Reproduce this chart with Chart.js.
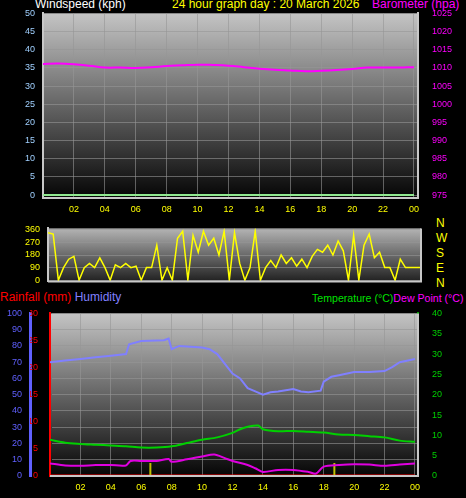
<!DOCTYPE html>
<html>
<head>
<meta charset="utf-8">
<script src="https://cdn.jsdelivr.net/npm/chart.js@4/dist/chart.umd.min.js"></script>
<style>
  body { margin: 0; background: #000; width: 466px; height: 498px; overflow: hidden; font-family: "Liberation Sans", Arial, sans-serif; }
  canvas { position: absolute; left: 0; }
  .t { position: absolute; font-size: 12px; white-space: nowrap; line-height: 12px; }
</style>
</head>
<body>
<div class="t" style="left:35px;top:-2px;color:#fff">Windspeed (kph)</div>
<div class="t" style="left:172px;top:-2px;color:#ffff00">24 hour graph day : 20 March 2026</div>
<div class="t" style="left:372px;top:-2px;color:#ff00ff">Barometer (hpa)</div>
<div class="t" style="left:436px;top:216px;color:#ffff00;line-height:15px;font-size:12px">N<br>W<br>S<br>E<br>N</div>
<div class="t" style="left:0;top:291px;color:#ff0000">Rainfall (mm) <span style="color:#8080ff">Humidity</span></div>
<div class="t" style="left:312px;top:292px;color:#00e000;font-size:10.6px">Temperature (°C)<span style="color:#ff00ff">Dew Point (°C)</span></div>
<canvas id="c1" style="top:0" width="466" height="220"></canvas>
<canvas id="c2" style="top:215px" width="466" height="80"></canvas>
<canvas id="c3" style="top:300px" width="466" height="198"></canvas>
<script>
// hours of the day for the sampled series
const baroHours = [0,1,2,3,4,5,6,7,8,9,10,11,12,13,14,15,16,17,18,19,20,21,22,23,24];
const baroValues = [1011.1,1011.2,1011.0,1010.6,1010.1,1010.1,1010.0,1010.2,1010.5,1010.7,1010.9,1010.8,1010.6,1010.2,1009.8,1009.5,1009.3,1009.1,1009.2,1009.4,1009.7,1010.1,1010.1,1010.1,1010.2];
const windHours = [0,24];
const windValues = [0,0];

// wind direction every 20 minutes
const dirValues = [340,330,0,90,150,170,0,90,120,90,160,90,0,110,90,120,90,100,0,90,90,250,0,90,
  0,300,350,0,320,200,350,250,300,180,350,0,340,120,0,90,350,0,90,140,90,180,120,160,
  100,150,90,170,220,200,250,180,280,210,0,320,0,250,330,160,200,90,90,0,150,90,90,90,90];

const humHours = [0,1,2,3,4,5,5.2,6,7.5,7.8,8,8.5,10,10.5,11,11.5,12,12.5,13,13.5,14,14.5,15,16,16.5,17,17.8,18,18.5,19,20,21,22,22.5,23,24];
const humValues = [70,71,72,73,74,75,81,83,83.5,84.5,78,80,79,78,75,69,63,60,54,52,50,51.5,52,53.5,52,51.5,52.5,58,61,62,64,64,64.5,67,70,72];
const tempHours = [0,1,2,3,4,5,6,7,8,9,10,11,12,12.5,13,13.7,14,15,16,17,18,19,20,21,22,23,24];
const tempValues = [8.9,8.2,7.9,7.7,7.5,7.3,7.0,7.0,7.3,8.1,8.9,9.5,10.6,11.5,12.1,12.4,11.5,11.0,11.1,10.9,10.7,10.2,10.1,9.8,9.5,8.7,8.4];
const dewHours = [0,1,2,3,4,5,5.3,6,7,7.8,8,9,10,10.8,11.5,12,13,13.5,14,15,16,17,17.5,18,19,20,21,22,23,24];
const dewValues = [3.1,2.6,2.5,2.7,2.7,2.6,3.7,3.7,3.7,4.2,3.5,4.1,4.8,5.3,4.4,3.7,2.7,1.9,1.0,1.5,1.5,1.0,0.6,2.3,2.7,2.9,2.8,2.5,2.8,3.1];
const rainHours = [0,24];
const rainValues = [0,0];
const markHours = [6.6,18.7];
const markHeight = 8;

const pts = (xs, ys) => xs.map((x, i) => ({ x: x, y: ys[i] }));
const markPts = [];
markHours.forEach(h => { markPts.push({x:h,y:0},{x:h,y:markHeight},{x:h,y:null}); });

const plotBg = {
  id: 'plotBg',
  beforeDraw(c, a, o) {
    const { ctx, chartArea: ca } = c;
    const g = ctx.createLinearGradient(0, ca.top, 0, ca.bottom);
    g.addColorStop(0, o.top);
    g.addColorStop(1, o.bottom);
    ctx.save();
    ctx.fillStyle = g;
    ctx.fillRect(ca.left, ca.top, ca.right - ca.left, ca.bottom - ca.top);
    ctx.restore();
  },
  afterDatasetsDraw(c) {
    const { ctx, chartArea: ca } = c;
    ctx.save();
    ctx.strokeStyle = '#c8c8c8';
    ctx.lineWidth = 2;
    ctx.beginPath();
    ctx.moveTo(ca.left, ca.bottom); ctx.lineTo(ca.right, ca.bottom); ctx.lineTo(ca.right, ca.top);
    ctx.stroke();
    ctx.restore();
  }
};

const font = { family: '"Liberation Sans", Arial, sans-serif', size: 9 };
const grid = { color: 'rgba(150,150,150,0.6)', borderDash: [1, 2], drawTicks: false };
const fixW = w => s => { s.width = w; };
const fixH = h => s => { s.height = h; };
const hourTick = v => (v === 0 ? '' : String(v % 24).padStart(2, '0'));
const plain = v => String(v);

function xAxis(min, max, show) {
  return {
    type: 'linear', min: min, max: max, display: show,
    afterBuildTicks: s => { s.ticks = [2,4,6,8,10,12,14,16,18,20,22,24].map(v => ({ value: v })); },
    ticks: { color: '#ffff00', font: font, callback: hourTick, padding: 6, maxRotation: 0 },
    grid: grid, border: { display: false }, afterFit: fixH(22)
  };
}
const base = { responsive: false, animation: false, events: [],
  plugins: { legend: { display: false }, tooltip: { enabled: false } } };

new Chart(document.getElementById('c1'), {
  type: 'line',
  data: { datasets: [
    { data: pts(baroHours, baroValues), yAxisID: 'yb', borderColor: '#ff00ff', borderWidth: 2, pointRadius: 0, tension: 0.4 },
    { data: pts(windHours, windValues), yAxisID: 'y', borderColor: '#90e890', borderWidth: 2, pointRadius: 0 }
  ] },
  options: { ...base,
    layout: { padding: { top: 10 } },
    plugins: { ...base.plugins, plotBg: { top: '#c4c4c4', bottom: '#050505' } },
    scales: {
      x: xAxis(0, 24.26, true),
      y: { position: 'left', min: -0.8, max: 50,
        afterBuildTicks: s => { s.ticks = [0,5,10,15,20,25,30,35,40,45,50].map(v => ({ value: v })); },
        ticks: { color: '#a0d0ff', font: font, padding: 8, callback: plain }, grid: grid, border: { color: '#c8c8c8', width: 2 }, afterFit: fixW(43) },
      yb: { position: 'right', min: 974.2, max: 1025,
        afterBuildTicks: s => { s.ticks = [975,980,985,990,995,1000,1005,1010,1015,1020,1025].map(v => ({ value: v })); },
        ticks: { color: '#ff00ff', font: font, padding: 6, callback: plain }, grid: { display: false }, border: { color: '#c8c8c8', width: 2 }, afterFit: fixW(48) }
    } },
  plugins: [plotBg]
});

new Chart(document.getElementById('c2'), {
  type: 'line',
  data: { datasets: [
    { data: dirValues.map((v, i) => ({ x: i / 3, y: v })), borderColor: '#ffff00', borderWidth: 1.5, pointRadius: 0 }
  ] },
  options: { ...base,
    layout: { padding: { top: 7, bottom: 13 } },
    plugins: { ...base.plugins, plotBg: { top: '#b4b4b4', bottom: '#202020' } },
    scales: {
      x: { type: 'linear', min: 0, max: 24, display: false },
      y: { position: 'left', min: -10, max: 370,
        afterBuildTicks: s => { s.ticks = [0,90,180,270,360].map(v => ({ value: v })); },
        ticks: { color: '#ffff00', font: font, padding: 8, callback: plain }, grid: grid, border: { color: '#c8c8c8', width: 2 }, afterFit: fixW(48) },
      yr: { position: 'right', min: 0, max: 1, display: true, ticks: { display: false }, grid: { display: false }, border: { display: false }, afterFit: fixW(45) }
    } },
  plugins: [plotBg]
});

new Chart(document.getElementById('c3'), {
  type: 'line',
  data: { datasets: [
    { data: pts(humHours, humValues), yAxisID: 'yh', borderColor: '#8080ff', borderWidth: 2, pointRadius: 0 },
    { data: pts(tempHours, tempValues), yAxisID: 'yt', borderColor: '#00d000', borderWidth: 2, pointRadius: 0, tension: 0.3 },
    { data: pts(dewHours, dewValues), yAxisID: 'yt', borderColor: '#e000e0', borderWidth: 2, pointRadius: 0, tension: 0.3 },
    { data: markPts, yAxisID: 'yh', borderColor: '#c0c000', borderWidth: 2, pointRadius: 0, spanGaps: false },
    { data: pts(rainHours, rainValues), yAxisID: 'yr', borderColor: '#ff0000', borderWidth: 3, pointRadius: 0 }
  ] },
  options: { ...base,
    layout: { padding: { top: 7 } },
    plugins: { ...base.plugins, plotBg: { top: '#c4c4c4', bottom: '#050505' } },
    scales: {
      x: xAxis(0, 24.2, true),
      yh: { position: 'left', weight: 1, min: 0, max: 100,
        afterBuildTicks: s => { s.ticks = [0,10,20,30,40,50,60,70,80,90,100].map(v => ({ value: v })); },
        ticks: { color: '#6060ff', font: font, padding: 8, callback: plain }, grid: grid, border: { color: '#6060ff', width: 3 }, afterFit: fixW(30) },
      yr: { position: 'left', weight: 0, min: 0, max: 30,
        afterBuildTicks: s => { s.ticks = [0,5,10,15,20,25,30].map(v => ({ value: v })); },
        ticks: { color: '#ff0000', font: font, padding: 4, callback: plain }, grid: { display: false }, border: { color: '#ff0000', width: 2 }, afterFit: fixW(20) },
      yt: { position: 'right', min: 0, max: 40,
        afterBuildTicks: s => { s.ticks = [0,5,10,15,20,25,30,35,40].map(v => ({ value: v })); },
        ticks: { color: '#00d000', font: font, padding: 6, callback: plain }, grid: { display: false }, border: { color: '#00a000', width: 2 }, afterFit: fixW(48) }
    } },
  plugins: [plotBg]
});
</script>
</body>
</html>
